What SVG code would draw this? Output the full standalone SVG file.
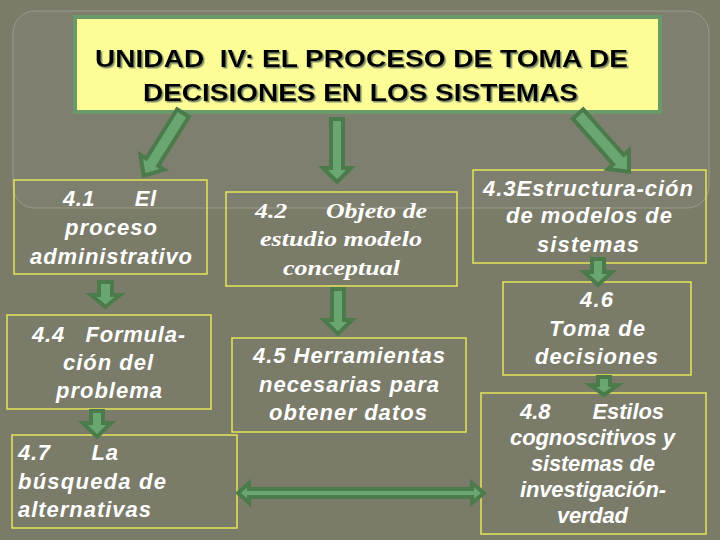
<svg xmlns="http://www.w3.org/2000/svg" width="720" height="540" viewBox="0 0 720 540">
<defs>
<style>
.bx{fill:none;stroke:#e6e65a;stroke-width:1.5}
.t{font-family:"Liberation Sans",Arial,sans-serif;font-weight:bold;font-style:italic;font-size:22px;fill:#ffffff;white-space:pre}
.ts{font-family:"Liberation Serif","Times New Roman",serif;font-weight:bold;font-style:italic;font-size:22px;fill:#ffffff;white-space:pre}
.ar{fill:#6aa672;stroke:#4b7b4b;stroke-width:4;stroke-linejoin:miter}
.ttl{font-family:"Liberation Sans",Arial,sans-serif;font-size:23px;font-weight:bold;fill:#000000;white-space:pre}
</style>
<filter id="sh" x="-5%" y="-20%" width="110%" height="140%">
<feDropShadow dx="1.5" dy="1.5" stdDeviation="0.4" flood-color="#7d8a66" flood-opacity="1"/>
</filter>
</defs>
<rect x="0" y="0" width="720" height="540" fill="#7b7b6a"/>
<rect x="13" y="11" width="696" height="197" rx="22" fill="#7f7f6f" stroke="#9c9c88" stroke-width="1"/>

<g id="title">
<rect x="75" y="17" width="585" height="95" fill="#fdfd98" stroke="#6a9a6a" stroke-width="4"/>
<g filter="url(#sh)">
<text class="ttl" x="95" y="67" textLength="533" lengthAdjust="spacingAndGlyphs">UNIDAD  IV: EL PROCESO DE TOMA DE</text>
<text class="ttl" x="143" y="101" textLength="435" lengthAdjust="spacingAndGlyphs">DECISIONES EN LOS SISTEMAS</text>
</g>
</g>

<g id="n41">
<rect class="bx" x="14" y="180" width="193" height="94"/>
<text class="t" x="63" y="206" textLength="93" lengthAdjust="spacing">4.1      El</text>
<text class="t" x="65" y="235" textLength="92" lengthAdjust="spacing">proceso</text>
<text class="t" x="30" y="264" textLength="162" lengthAdjust="spacing">administrativo</text>
</g>

<g id="n42">
<rect class="bx" x="226" y="192" width="231" height="94"/>
<text class="ts" x="255" y="218" textLength="172" lengthAdjust="spacingAndGlyphs">4.2      Objeto de</text>
<text class="ts" x="260" y="246" textLength="162" lengthAdjust="spacingAndGlyphs">estudio modelo</text>
<text class="ts" x="283" y="275" textLength="117" lengthAdjust="spacingAndGlyphs">conceptual</text>
</g>

<g id="n43">
<rect class="bx" x="473" y="170" width="233" height="93"/>
<text class="t" x="483" y="196" textLength="210" lengthAdjust="spacing">4.3Estructura-ción</text>
<text class="t" x="506" y="223" textLength="166" lengthAdjust="spacing">de modelos de</text>
<text class="t" x="537" y="252" textLength="102" lengthAdjust="spacing">sistemas</text>
</g>

<g id="n44">
<rect class="bx" x="7" y="315" width="204" height="94"/>
<text class="t" x="32" y="342" textLength="153" lengthAdjust="spacing">4.4   Formula-</text>
<text class="t" x="63" y="370" textLength="90" lengthAdjust="spacing">ción del</text>
<text class="t" x="56" y="398" textLength="106" lengthAdjust="spacing">problema</text>
</g>

<g id="n45">
<rect class="bx" x="232" y="338" width="234" height="94"/>
<text class="t" x="253" y="363" textLength="192" lengthAdjust="spacing">4.5 Herramientas</text>
<text class="t" x="259" y="392" textLength="180" lengthAdjust="spacing">necesarias para</text>
<text class="t" x="269" y="420" textLength="158" lengthAdjust="spacing">obtener datos</text>
</g>

<g id="n46">
<rect class="bx" x="503" y="282" width="188" height="93"/>
<text class="t" x="580" y="307" textLength="33" lengthAdjust="spacing">4.6</text>
<text class="t" x="549" y="336" textLength="96" lengthAdjust="spacing">Toma de</text>
<text class="t" x="535" y="364" textLength="123" lengthAdjust="spacing">decisiones</text>
</g>

<g id="n47">
<rect class="bx" x="12" y="435" width="225" height="93"/>
<text class="t" x="18" y="460" textLength="100" lengthAdjust="spacing">4.7      La</text>
<text class="t" x="18" y="489" textLength="148" lengthAdjust="spacing">búsqueda de</text>
<text class="t" x="18" y="517" textLength="133" lengthAdjust="spacing">alternativas</text>
</g>

<g id="n48">
<rect class="bx" x="481" y="393" width="225" height="141"/>
<text class="t" x="520" y="419" textLength="144" lengthAdjust="spacing">4.8       Estilos</text>
<text class="t" x="510" y="445" textLength="165" lengthAdjust="spacing">cognoscitivos y</text>
<text class="t" x="531" y="471" textLength="124" lengthAdjust="spacing">sistemas de</text>
<text class="t" x="520" y="497" textLength="146" lengthAdjust="spacing">investigación-</text>
<text class="t" x="557" y="523" textLength="71" lengthAdjust="spacing">verdad</text>
</g>

<g id="connectors">
<path class="ar" transform="translate(183,113) rotate(32)" d="M-7,0 H7 V58 H14 L0,74 L-14,58 H-7 Z"/>
<path class="ar" d="M331,119 H343 V168 H351 L337,182 L323,168 H331 Z"/>
<path class="ar" transform="translate(578,114) rotate(-41.5)" d="M-7,0 H7 V61 H14 L0,77 L-14,61 H-7 Z"/>
<path class="ar" d="M99,282 H112 V295 H120 L105.5,307 L91,295 H99 Z"/>
<path class="ar" d="M332,289 H344 V320 H352 L338,334 L324,320 H332 Z"/>
<path class="ar" d="M592,259 H604 V272 H612 L598,285 L584,272 H592 Z"/>
<path class="ar" d="M91,411 H103 V423 H111 L97,437 L83,423 H91 Z"/>
<path class="ar" d="M598,377 H610 V385 H618 L604,395 L590,385 H598 Z"/>
<path class="ar" stroke-width="3" d="M238,493 L249,483 V489 H472 V483 L484,493 L472,503 V497 H249 V503 Z"/>
</g>
</svg>
